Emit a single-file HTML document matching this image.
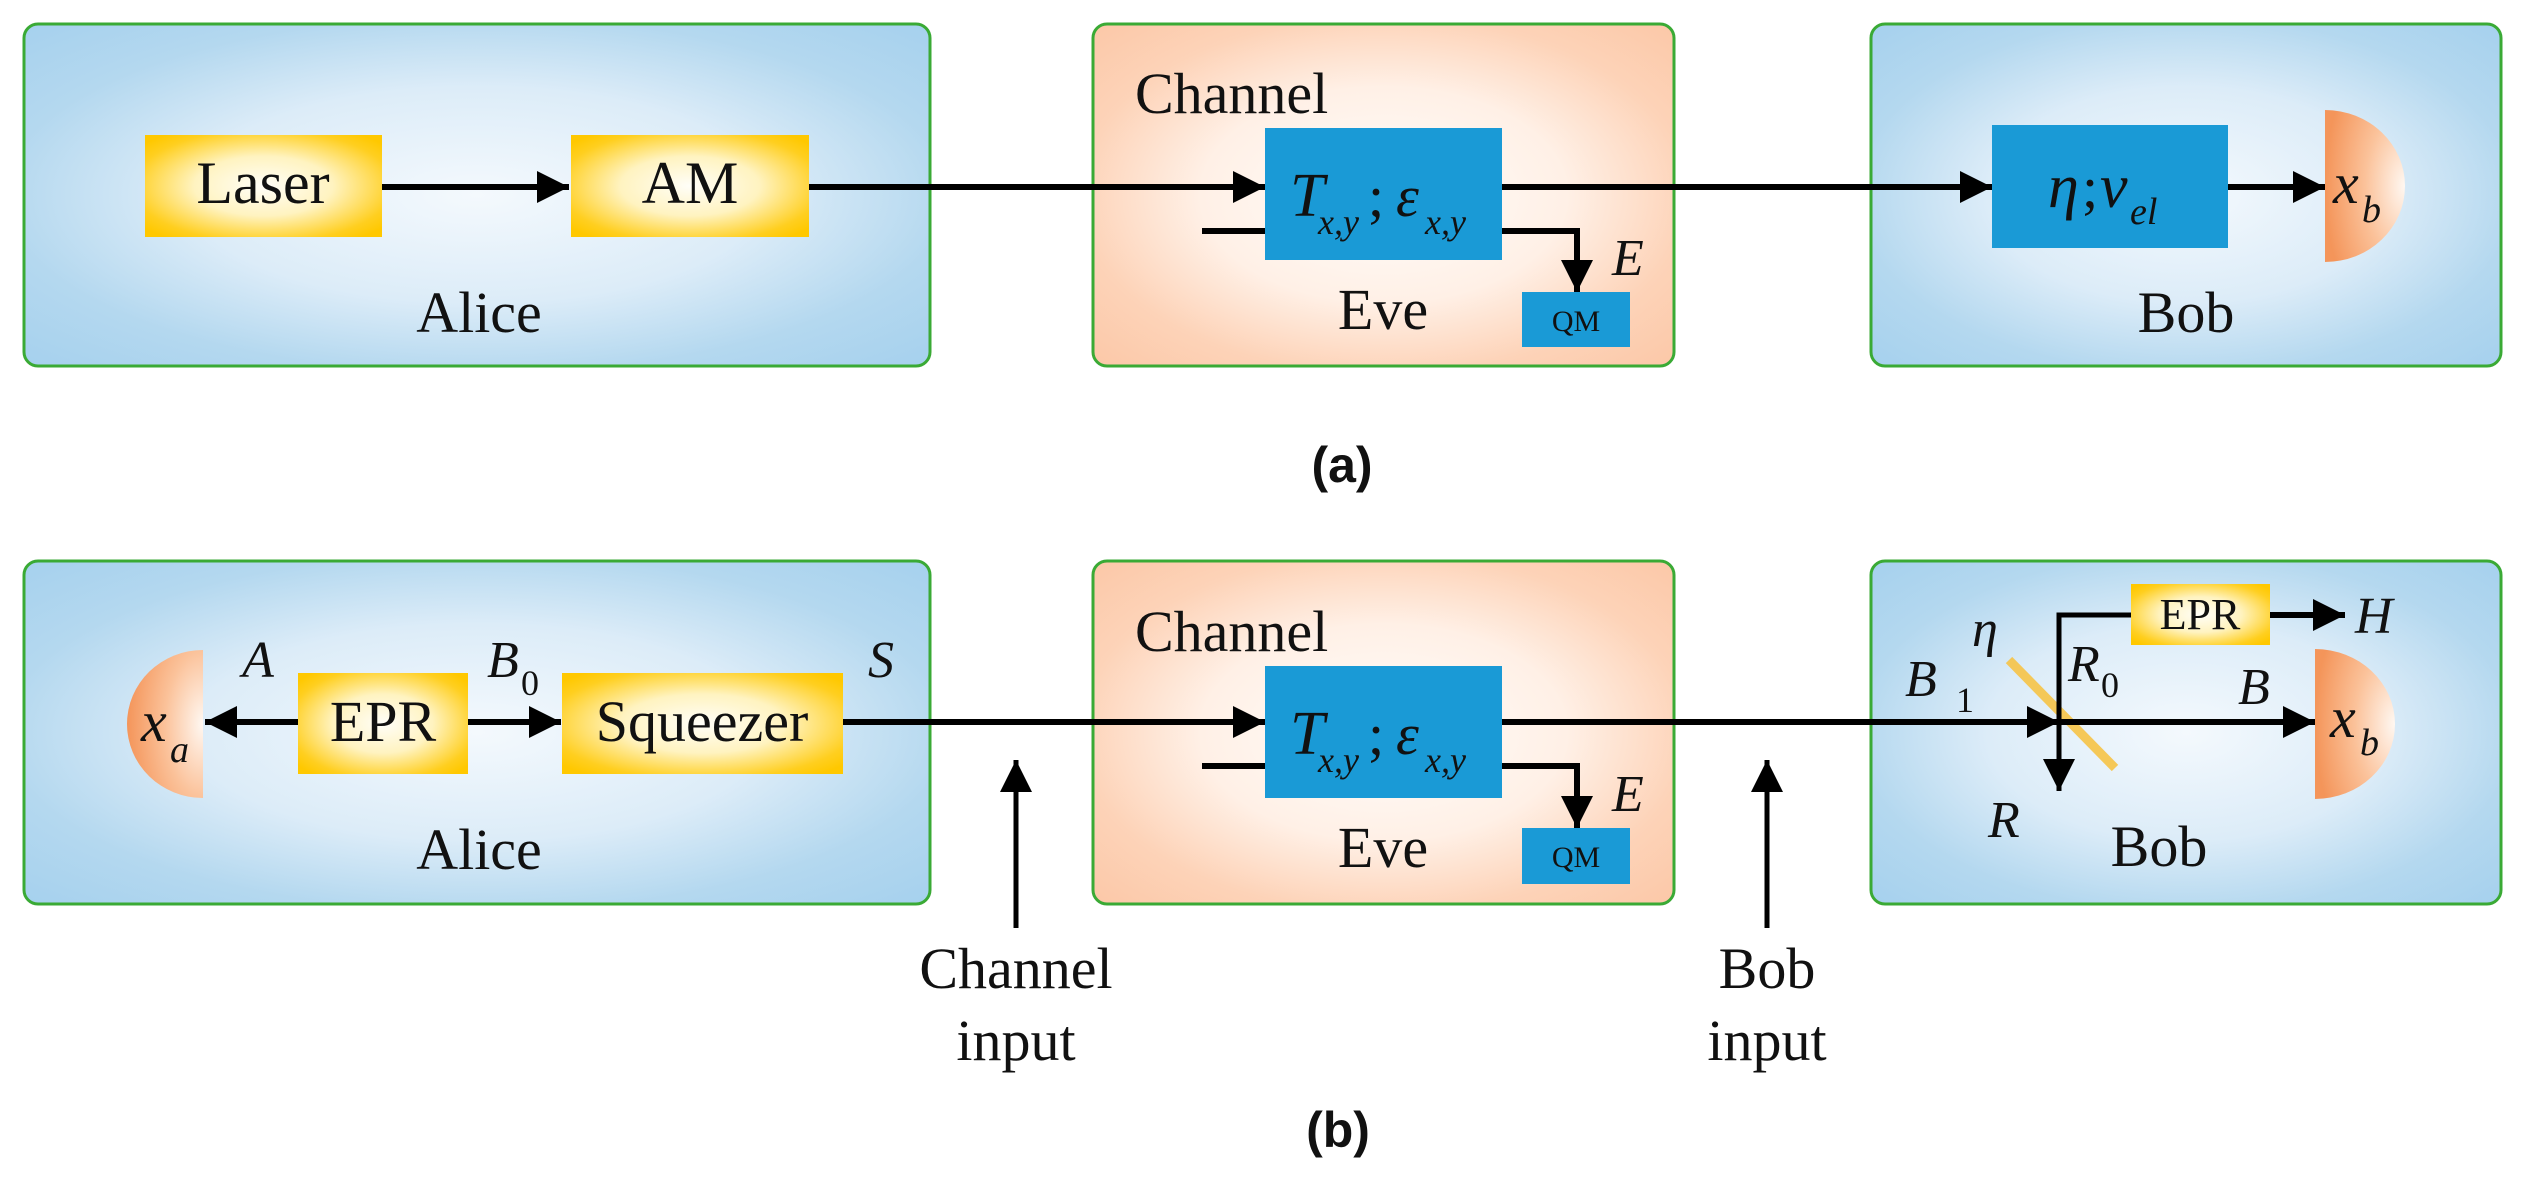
<!DOCTYPE html>
<html><head><meta charset="utf-8"><style>
html,body{margin:0;padding:0;background:#fff;}
svg{display:block;}
text{font-family:"Liberation Serif",serif;fill:#111;}
.i{font-style:italic;}
</style></head><body>
<svg width="2524" height="1191" viewBox="0 0 2524 1191" xmlns="http://www.w3.org/2000/svg">
<defs>
<radialGradient id="gb" cx="0.5" cy="0.5" r="0.7">
<stop offset="0" stop-color="#f4f9fd"/><stop offset="0.45" stop-color="#dcecf8"/><stop offset="0.75" stop-color="#b4d8ef"/><stop offset="1" stop-color="#a6d1ee"/></radialGradient>
<radialGradient id="go" cx="0.5" cy="0.5" r="0.7">
<stop offset="0" stop-color="#fffdfb"/><stop offset="0.45" stop-color="#fff0e6"/><stop offset="0.75" stop-color="#fdd3b8"/><stop offset="1" stop-color="#fcc8a8"/></radialGradient>
<radialGradient id="gy" cx="0.5" cy="0.5" r="0.65">
<stop offset="0" stop-color="#fffef8"/><stop offset="0.45" stop-color="#fff3c0"/><stop offset="0.85" stop-color="#ffcf20"/><stop offset="1" stop-color="#ffc800"/></radialGradient>
<radialGradient id="gd" cx="1" cy="0.5" r="1">
<stop offset="0" stop-color="#fff8f2"/><stop offset="0.5" stop-color="#fbc29a"/><stop offset="1" stop-color="#f4955a"/></radialGradient>
<marker id="ah" viewBox="0 0 10 10" refX="10" refY="5" markerWidth="32" markerHeight="34" markerUnits="userSpaceOnUse" orient="auto">
<path d="M0,0 L10,5 L0,10 z" fill="#000"/></marker>
</defs>

<g id="panelA">
<!-- boxes -->
<rect x="24" y="24" width="906" height="342" rx="14" fill="url(#gb)" stroke="#3aaa35" stroke-width="3"/>
<rect x="1093" y="24" width="581" height="342" rx="14" fill="url(#go)" stroke="#3aaa35" stroke-width="3"/>
<rect x="1871" y="24" width="630" height="342" rx="14" fill="url(#gb)" stroke="#3aaa35" stroke-width="3"/>
<rect x="145" y="135" width="237" height="102" fill="url(#gy)"/>
<rect x="571" y="135" width="238" height="102" fill="url(#gy)"/>
<text x="263" y="203" font-size="60" text-anchor="middle">Laser</text>
<text x="690" y="203" font-size="60" text-anchor="middle">AM</text>
<text x="479" y="332" font-size="58" text-anchor="middle">Alice</text>
<line x1="382" y1="187" x2="569" y2="187" stroke="#000" stroke-width="6" marker-end="url(#ah)"/>
<line x1="809" y1="187" x2="1265" y2="187" stroke="#000" stroke-width="6" marker-end="url(#ah)"/>
<text x="1135" y="113" font-size="58">Channel</text>
<rect x="1265" y="128" width="237" height="132" fill="#1a9ad6"/>
<text x="1290" y="216" font-size="62" class="i">T</text>
<text x="1318" y="234" font-size="36" class="i">x,y</text>
<text x="1368" y="216" font-size="58">;</text>
<text x="1396" y="216" font-size="58" class="i">ε</text>
<text x="1425" y="234" font-size="36" class="i">x,y</text>
<line x1="1202" y1="231" x2="1265" y2="231" stroke="#000" stroke-width="6"/>
<polyline points="1502,231 1577,231 1577,292" fill="none" stroke="#000" stroke-width="6" marker-end="url(#ah)"/>
<text x="1612" y="275" font-size="52" class="i">E</text>
<rect x="1522" y="292" width="108" height="55" fill="#1a9ad6"/>
<text x="1576" y="331" font-size="30" text-anchor="middle">QM</text>
<text x="1383" y="329" font-size="58" text-anchor="middle">Eve</text>
<line x1="1502" y1="187" x2="1992" y2="187" stroke="#000" stroke-width="6" marker-end="url(#ah)"/>
<rect x="1992" y="125" width="236" height="123" fill="#1a9ad6"/>
<text x="2048" y="207" font-size="62" class="i">η</text>
<text x="2082" y="207" font-size="58">;</text>
<text x="2100" y="207" font-size="62" class="i">v</text>
<text x="2130" y="224" font-size="38" class="i">el</text>
<line x1="2228" y1="187" x2="2325" y2="187" stroke="#000" stroke-width="6" marker-end="url(#ah)"/>
<path d="M2325,110 A80,76 0 0 1 2325,262 Z" fill="url(#gd)"/>
<text x="2333" y="203" font-size="58" class="i">x</text>
<text x="2362" y="222" font-size="38" class="i">b</text>
<text x="2186" y="332" font-size="58" text-anchor="middle">Bob</text>
<text x="1342" y="482" font-size="50" font-weight="bold" text-anchor="middle" style="font-family:'Liberation Sans',sans-serif">(a)</text>
</g>

<g id="panelB">
<rect x="24" y="561" width="906" height="343" rx="14" fill="url(#gb)" stroke="#3aaa35" stroke-width="3"/>
<rect x="1093" y="561" width="581" height="343" rx="14" fill="url(#go)" stroke="#3aaa35" stroke-width="3"/>
<rect x="1871" y="561" width="630" height="343" rx="14" fill="url(#gb)" stroke="#3aaa35" stroke-width="3"/>
<path d="M203,650 A76,74 0 0 0 203,798 Z" fill="url(#gd)" transform="scale(1,1)"/>
<text x="141" y="741" font-size="58" class="i">x</text>
<text x="170" y="762" font-size="38" class="i">a</text>
<rect x="298" y="673" width="170" height="101" fill="url(#gy)"/>
<rect x="562" y="673" width="281" height="101" fill="url(#gy)"/>
<text x="383" y="741" font-size="58" text-anchor="middle">EPR</text>
<text x="702" y="741" font-size="58" text-anchor="middle">Squeezer</text>
<line x1="298" y1="722" x2="205" y2="722" stroke="#000" stroke-width="6" marker-end="url(#ah)"/>
<line x1="468" y1="722" x2="561" y2="722" stroke="#000" stroke-width="6" marker-end="url(#ah)"/>
<text x="258" y="677" font-size="52" class="i" text-anchor="middle">A</text>
<text x="487" y="677" font-size="52" class="i">B</text>
<text x="521" y="695" font-size="36">0</text>
<text x="881" y="677" font-size="52" class="i" text-anchor="middle">S</text>
<text x="479" y="869" font-size="58" text-anchor="middle">Alice</text>
<line x1="843" y1="722" x2="1265" y2="722" stroke="#000" stroke-width="6" marker-end="url(#ah)"/>
<line x1="1016" y1="928" x2="1016" y2="760" stroke="#000" stroke-width="5" marker-end="url(#ah)"/>
<text x="1016" y="988" font-size="58" text-anchor="middle">Channel</text>
<text x="1016" y="1060" font-size="58" text-anchor="middle">input</text>

<text x="1135" y="651" font-size="58">Channel</text>
<rect x="1265" y="666" width="237" height="132" fill="#1a9ad6"/>
<text x="1290" y="754" font-size="62" class="i">T</text>
<text x="1318" y="772" font-size="36" class="i">x,y</text>
<text x="1368" y="754" font-size="58">;</text>
<text x="1396" y="754" font-size="58" class="i">ε</text>
<text x="1425" y="772" font-size="36" class="i">x,y</text>
<line x1="1202" y1="766" x2="1265" y2="766" stroke="#000" stroke-width="6"/>
<polyline points="1502,766 1577,766 1577,828" fill="none" stroke="#000" stroke-width="6" marker-end="url(#ah)"/>
<text x="1612" y="811" font-size="52" class="i">E</text>
<rect x="1522" y="828" width="108" height="56" fill="#1a9ad6"/>
<text x="1576" y="867" font-size="30" text-anchor="middle">QM</text>
<text x="1383" y="867" font-size="58" text-anchor="middle">Eve</text>
<line x1="1502" y1="722" x2="2059" y2="722" stroke="#000" stroke-width="6" marker-end="url(#ah)"/>
<line x1="1767" y1="928" x2="1767" y2="760" stroke="#000" stroke-width="5" marker-end="url(#ah)"/>
<text x="1767" y="988" font-size="58" text-anchor="middle">Bob</text>
<text x="1767" y="1060" font-size="58" text-anchor="middle">input</text>

<line x1="2009" y1="660" x2="2115" y2="768" stroke="#f7c447" stroke-width="9" opacity="0.9"/>
<line x1="2059" y1="722" x2="2315" y2="722" stroke="#000" stroke-width="6" marker-end="url(#ah)"/>
<polyline points="2131,615 2059,615 2059,791" fill="none" stroke="#000" stroke-width="5" marker-end="url(#ah)"/>
<rect x="2131" y="584" width="139" height="61" fill="url(#gy)"/>
<text x="2200" y="629" font-size="44" text-anchor="middle">EPR</text>
<line x1="2270" y1="615" x2="2345" y2="615" stroke="#000" stroke-width="6" marker-end="url(#ah)"/>
<text x="2355" y="633" font-size="52" class="i">H</text>
<path d="M2315,649 A80,75 0 0 1 2315,799 Z" fill="url(#gd)"/>
<text x="2330" y="737" font-size="58" class="i">x</text>
<text x="2360" y="755" font-size="38" class="i">b</text>
<text x="1972" y="646" font-size="52" class="i">η</text>
<text x="1905" y="696" font-size="52" class="i">B</text>
<text x="1956" y="712" font-size="36">1</text>
<text x="2068" y="681" font-size="52" class="i">R</text>
<text x="2101" y="697" font-size="36">0</text>
<text x="2238" y="704" font-size="52" class="i">B</text>
<text x="1988" y="837" font-size="52" class="i">R</text>
<text x="2159" y="866" font-size="58" text-anchor="middle">Bob</text>
<text x="1338" y="1147" font-size="50" font-weight="bold" text-anchor="middle" style="font-family:'Liberation Sans',sans-serif">(b)</text>
</g>
</svg>
</body></html>
